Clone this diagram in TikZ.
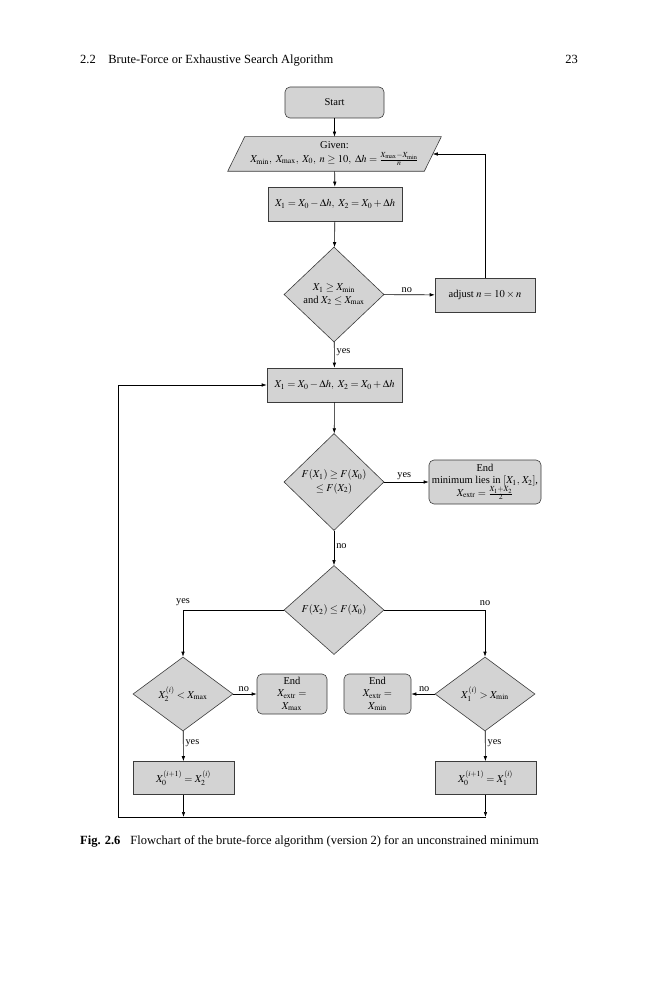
\documentclass[tikz,border=0pt]{standalone}
\usepackage{mathptmx}
\usepackage{fontspec}
\setmainfont{Liberation Serif}
\usetikzlibrary{shapes.geometric,arrows.meta,backgrounds}
\definecolor{boxgray}{RGB}{211,211,211}
\definecolor{edgegray}{RGB}{60,60,60}
\tikzset{
  base/.style={draw=edgegray, fill=boxgray, line width=0.6pt, font=\fontsize{10.5}{12.5}\selectfont, align=center, inner sep=1pt},
  proc/.style={base, rectangle, minimum height=34},
  term/.style={base, rectangle, rounded corners=5pt},
  dec/.style={base, diamond, aspect=1, inner sep=0pt},
  arr/.style={-{Latex[length=5pt,width=3.5pt]}, line width=0.6pt},
  lbl/.style={font=\fontsize{10.3}{12}\selectfont, inner sep=2pt},
  page/.style={font=\fontsize{12.5}{14}\selectfont, inner sep=0pt}
}
\begin{document}
\begin{tikzpicture}[x=1pt,y=-1pt]
\useasboundingbox (0,0) rectangle (659,1000);
% header
\node[page, anchor=base west] (hd) at (80,64) {2.2\hspace{1em}Brute-Force or Exhaustive Search Algorithm};
\node[page, anchor=base east] (pg) at (578,64) {23};
% nodes
\node[term, minimum width=99, minimum height=31] (start) at (334.5,102.5) {Start};
\node[base, draw=none, fill=none, minimum width=196, minimum height=34] (given) at (334.5,154)
  {Given:\\[1pt]$X_{\min},\ X_{\max},\ X_0,\ n \ge 10,\ \Delta h = \frac{X_{\max}-X_{\min}}{n}$};
\begin{scope}[on background layer]
\draw[draw=edgegray, fill=boxgray, line width=0.6pt]
  ([xshift=-8.5pt]given.south west) -- ([xshift=8.5pt]given.north west) --
  ([xshift=8.5pt]given.north east) -- ([xshift=-8.5pt]given.south east) -- cycle;
\end{scope}
\node[proc, minimum width=134] (b1) at (335,204) {$X_1 = X_0 - \Delta h,\ X_2 = X_0 + \Delta h$};
\node[dec, minimum width=100, minimum height=95] (d1) at (334,294.5) {$X_1 \ge X_{\min}$\\and $X_2 \le X_{\max}$};
\node[proc, minimum width=100] (adjust) at (485,295) {adjust $n = 10 \times n$};
\node[proc, minimum width=135] (b2) at (334.5,385) {$X_1 = X_0 - \Delta h,\ X_2 = X_0 + \Delta h$};
\node[dec, minimum width=100, minimum height=97] (d2) at (334,482) {$F(X_1) \ge F(X_0)$\\[1pt]$\le F(X_2)$};
\node[term, minimum width=112, minimum height=44] (end1) at (485,482)
  {End\\minimum lies in $[X_1,\, X_2]$,\\$X_{\mathrm{extr}} = \frac{X_1+X_2}{2}$};
\node[dec, minimum width=100, minimum height=89] (d3) at (334,610) {$F(X_2) \le F(X_0)$};
\node[dec, minimum width=100, minimum height=74] (d4) at (183,694) {$X_2^{(i)} < X_{\max}$};
\node[term, minimum width=70, minimum height=40] (endL) at (292,694) {End\\$X_{\mathrm{extr}} =$\\$X_{\max}$};
\node[dec, minimum width=100, minimum height=74] (d5) at (485,694) {$X_1^{(i)} > X_{\min}$};
\node[term, minimum width=67, minimum height=40] (endR) at (377.5,694) {End\\$X_{\mathrm{extr}} =$\\$X_{\min}$};
\node[proc, minimum width=101, minimum height=33] (bL) at (183.5,778) {$X_0^{(i+1)} = X_2^{(i)}$};
\node[proc, minimum width=101, minimum height=33] (bR) at (485.5,778) {$X_0^{(i+1)} = X_1^{(i)}$};
\coordinate (lb) at (118,817);
\coordinate (rb) at (485.5,817);
% connectors
\draw[arr] (start) -- (given);
\draw[arr] (given) -- (b1);
\draw[arr] (b1) -- (d1);
\draw[arr] (d1) -- node[lbl, above, pos=0.45] {no} (adjust);
\draw[arr] (adjust.north) |- (given.east);
\draw[arr] (d1) -- node[lbl, right, pos=0.4] {yes} (b2);
\draw[arr] (b2) -- (d2);
\draw[arr] (d2) -- node[lbl, above, pos=0.45] {yes} (end1);
\draw[arr] (d2) -- node[lbl, right, pos=0.45] {no} (d3);
\draw[arr] (d3.west) -| node[lbl, above, pos=0.5, yshift=2pt] {yes} (d4.north);
\draw[arr] (d3.east) -| node[lbl, above, pos=0.5, yshift=2pt] {no} (d5.north);
\draw[arr] (d4) -- node[lbl, above, pos=0.45] {no} (endL);
\draw[arr] (d5) -- node[lbl, above, pos=0.45] {no} (endR);
\draw[arr] (d4) -- node[lbl, right, pos=0.4] {yes} (bL);
\draw[arr] (d5) -- node[lbl, right, pos=0.4] {yes} (bR);
\draw[arr] (bL.south) -- (bL.south |- lb);
\draw[arr] (bR.south) -- (rb);
\draw[arr] (rb) -- (lb) |- (b2.west);
% caption
\node[page, anchor=base west] (cap) at (80,844) {\textbf{Fig. 2.6}\hspace{0.8em}Flowchart of the brute-force algorithm (version 2) for an unconstrained minimum};
\end{tikzpicture}
\end{document}
